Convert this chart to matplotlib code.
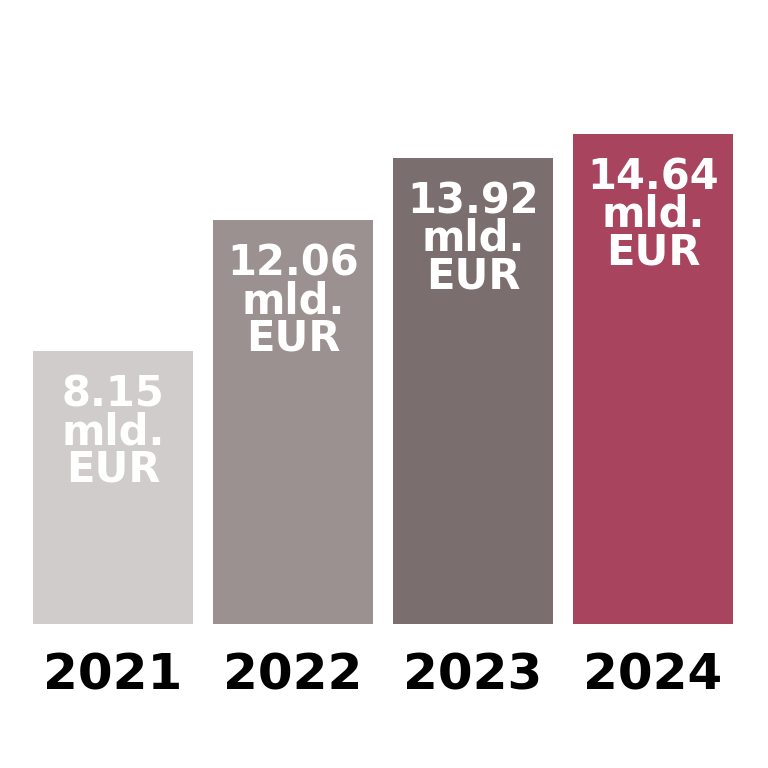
import matplotlib
matplotlib.use("Agg")
import matplotlib.pyplot as plt

years = ["2021", "2022", "2023", "2024"]
values = [8.15, 12.06, 13.92, 14.64]
value_labels = ["8.15\nmld.\nEUR", "12.06\nmld.\nEUR", "13.92\nmld.\nEUR", "14.64\nmld.\nEUR"]
colors = ["#d0cccb", "#9b9190", "#7a6f6e", "#a8445d"]

fig = plt.figure(figsize=(7.68, 7.68), dpi=100)
ax = fig.add_axes([23/768, 144/768, 720/768, 624/768])
x = list(range(len(years)))
ax.bar(x, values, width=160/180, color=colors)
ax.set_xlim(-0.5, 3.5)
ax.set_ylim(0, 624/33.48)
ax.axis("off")

for xi, v, lab in zip(x, values, value_labels):
    ax.annotate(lab, (xi, v), xytext=(0, -16), textcoords="offset points",
                ha="center", va="top", color="white", fontsize=30,
                fontweight="bold", linespacing=0.87)
    ax.annotate(years[xi], (xi, 0), xytext=(0, -37), textcoords="offset points",
                ha="center", va="center", color="black", fontsize=36,
                fontweight="bold")

fig.savefig("out.png", dpi=100)
